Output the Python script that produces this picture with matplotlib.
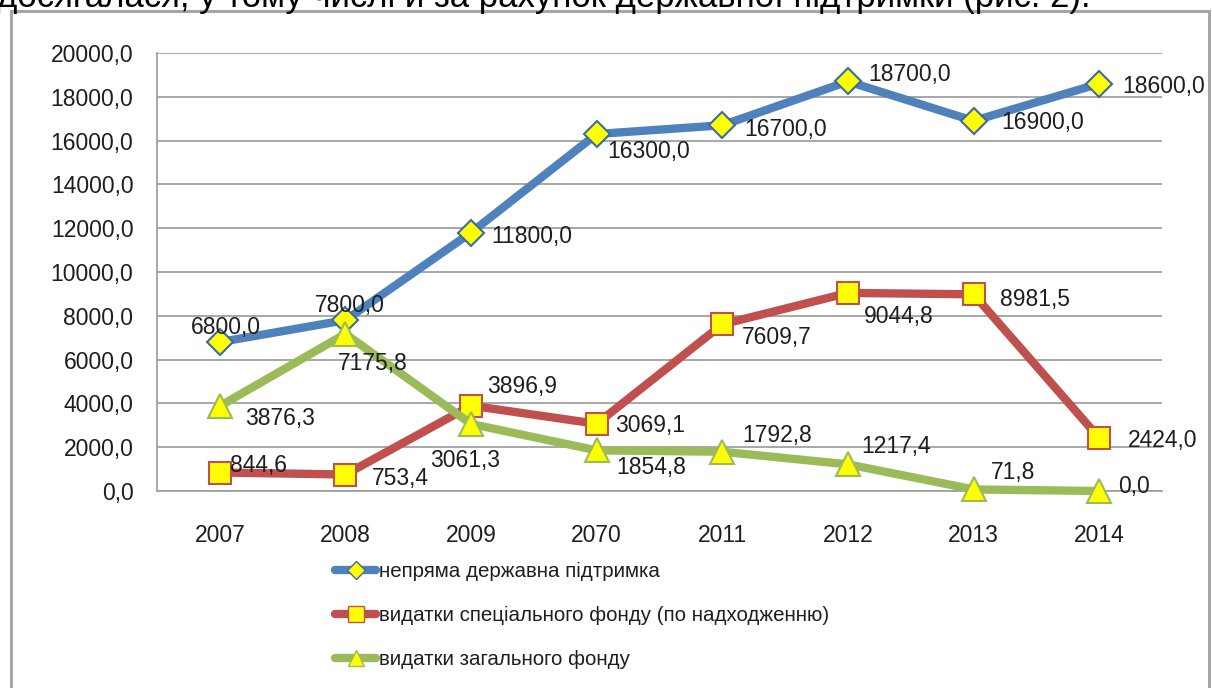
import matplotlib
matplotlib.use("Agg")
import matplotlib.pyplot as plt
from matplotlib.lines import Line2D
from matplotlib.patches import Rectangle

# ---------------- data ----------------
years = ["2007", "2008", "2009", "2070", "2011", "2012", "2013", "2014"]
indirect_support = [6800.0, 7800.0, 11800.0, 16300.0, 16700.0, 18700.0, 16900.0, 18600.0]
special_fund = [844.6, 753.4, 3896.9, 3069.1, 7609.7, 9044.8, 8981.5, 2424.0]
general_fund = [3876.3, 7175.8, 3061.3, 1854.8, 1792.8, 1217.4, 71.8, 0.0]
series_names = [
    "непряма державна підтримка",
    "видатки спеціального фонду (по надходженню)",
    "видатки загального фонду",
]
y_ticks = [0, 2000, 4000, 6000, 8000, 10000, 12000, 14000, 16000, 18000, 20000]
header_text = "досягалася, у тому числі й за рахунок державної підтримки (рис. 2)."

# label offsets in pixels (dx right, dy down) -- layout only
off_blue = [(6, -15), (4, -15), (61, 4), (52, 17), (63, 4), (62, -7), (69, 2), (64, 3)]
off_red = [(39, -7), (55, 4), (51, -19), (53, 2), (54, 13), (51, 24), (61, 5), (63, 3)]
off_green = [(60, 12), (27, 30), (-6, 37), (54, 17), (55, -16), (48, -18), (39, -17), (35, -5)]

# ---------------- figure ----------------
W, H = 1212, 688
fig = plt.figure(figsize=(W / 100, H / 100), dpi=100)
fig.patch.set_facecolor("white")

num_font = ["Liberation Sans", "DejaVu Sans"]
leg_font = ["Liberation Sans Narrow", "Liberation Sans", "DejaVu Sans"]
txt_col = "#1e1e1e"

# outer chart frame
fig.add_artist(Rectangle((11 / W, -0.05), (1209 - 11) / W, 1 - 11 / H + 0.05,
                         transform=fig.transFigure, fill=False,
                         edgecolor="#a6a6a6", linewidth=2.2))
# header text (cut at top edge, as in the reference)
fig.text(-3 / W, 1 - 7 / H, header_text, fontsize=25, family=num_font,
         color="black", va="baseline", ha="left")

ax_l, ax_r, ax_t, ax_b = 157, 1162, 53, 491
ax = fig.add_axes([ax_l / W, 1 - ax_b / H, (ax_r - ax_l) / W, (ax_b - ax_t) / H])
ax.set_facecolor("none")

x = list(range(len(years)))
colors = ["#4f81bd", "#c0504d", "#9bbb59"]
edges = ["#3b6aa5", "#c0504d", "#9bbb59"]
markers = ["D", "s", "^"]
msizes = [13, 16, 17]
datas = [indirect_support, special_fund, general_fund]
offs = [off_blue, off_red, off_green]

handles = []
for d, c, e, m, ms, name in zip(datas, colors, edges, markers, msizes, series_names):
    ax.plot(x, d, color=c, lw=6, solid_capstyle="round", solid_joinstyle="round",
            marker=m, markersize=ms, markerfacecolor="#ffff00",
            markeredgecolor=e, markeredgewidth=1.5, zorder=3, clip_on=False)
    handles.append(Line2D([], [], color=c, lw=6, solid_capstyle="round",
                          marker=m, markersize=ms * 0.68, markerfacecolor="#ffff00",
                          markeredgecolor=e, markeredgewidth=1.0, label=name))

for d, off in zip(datas, offs):
    for xi, v, (dx, dy) in zip(x, d, off):
        ax.annotate(f"{v:.1f}".replace(".", ","), (xi, v), xytext=(dx, -dy),
                    textcoords="offset pixels", ha="center", va="center",
                    fontsize=16.5, family=num_font, color=txt_col, zorder=5,
                    annotation_clip=False)

ax.set_xlim(-0.5, len(years) - 0.5)
ax.set_ylim(0, 20000)
ax.set_yticks(y_ticks)
ax.set_yticklabels([f"{t:.1f}".replace(".", ",") for t in y_ticks])
ax.set_xticks(x)
ax.set_xticklabels(years)
ax.grid(axis="y", color="#a0a0a0", lw=1.3)
ax.set_axisbelow(True)
for s in ["top", "right"]:
    ax.spines[s].set_visible(False)
ax.spines["left"].set_color("#a0a0a0")
ax.spines["left"].set_linewidth(1.3)
ax.spines["bottom"].set_color("#a0a0a0")
ax.spines["bottom"].set_linewidth(1.3)
ax.tick_params(axis="y", length=0, pad=17, labelsize=16.5, labelcolor=txt_col)
ax.tick_params(axis="x", length=0, pad=24, labelsize=16.5, labelcolor=txt_col)
for lab in ax.get_xticklabels() + ax.get_yticklabels():
    lab.set_family(num_font)

leg = fig.legend(handles=handles, loc="upper left",
                 bbox_to_anchor=(335 / W, 1 - 562 / H),
                 frameon=False, handlelength=2.0, handletextpad=0.15,
                 labelspacing=1.22, borderaxespad=0, borderpad=0,
                 prop={"family": leg_font, "size": 14.8})
for t in leg.get_texts():
    t.set_color(txt_col)

fig.savefig("out.png", dpi=100, facecolor="white")
